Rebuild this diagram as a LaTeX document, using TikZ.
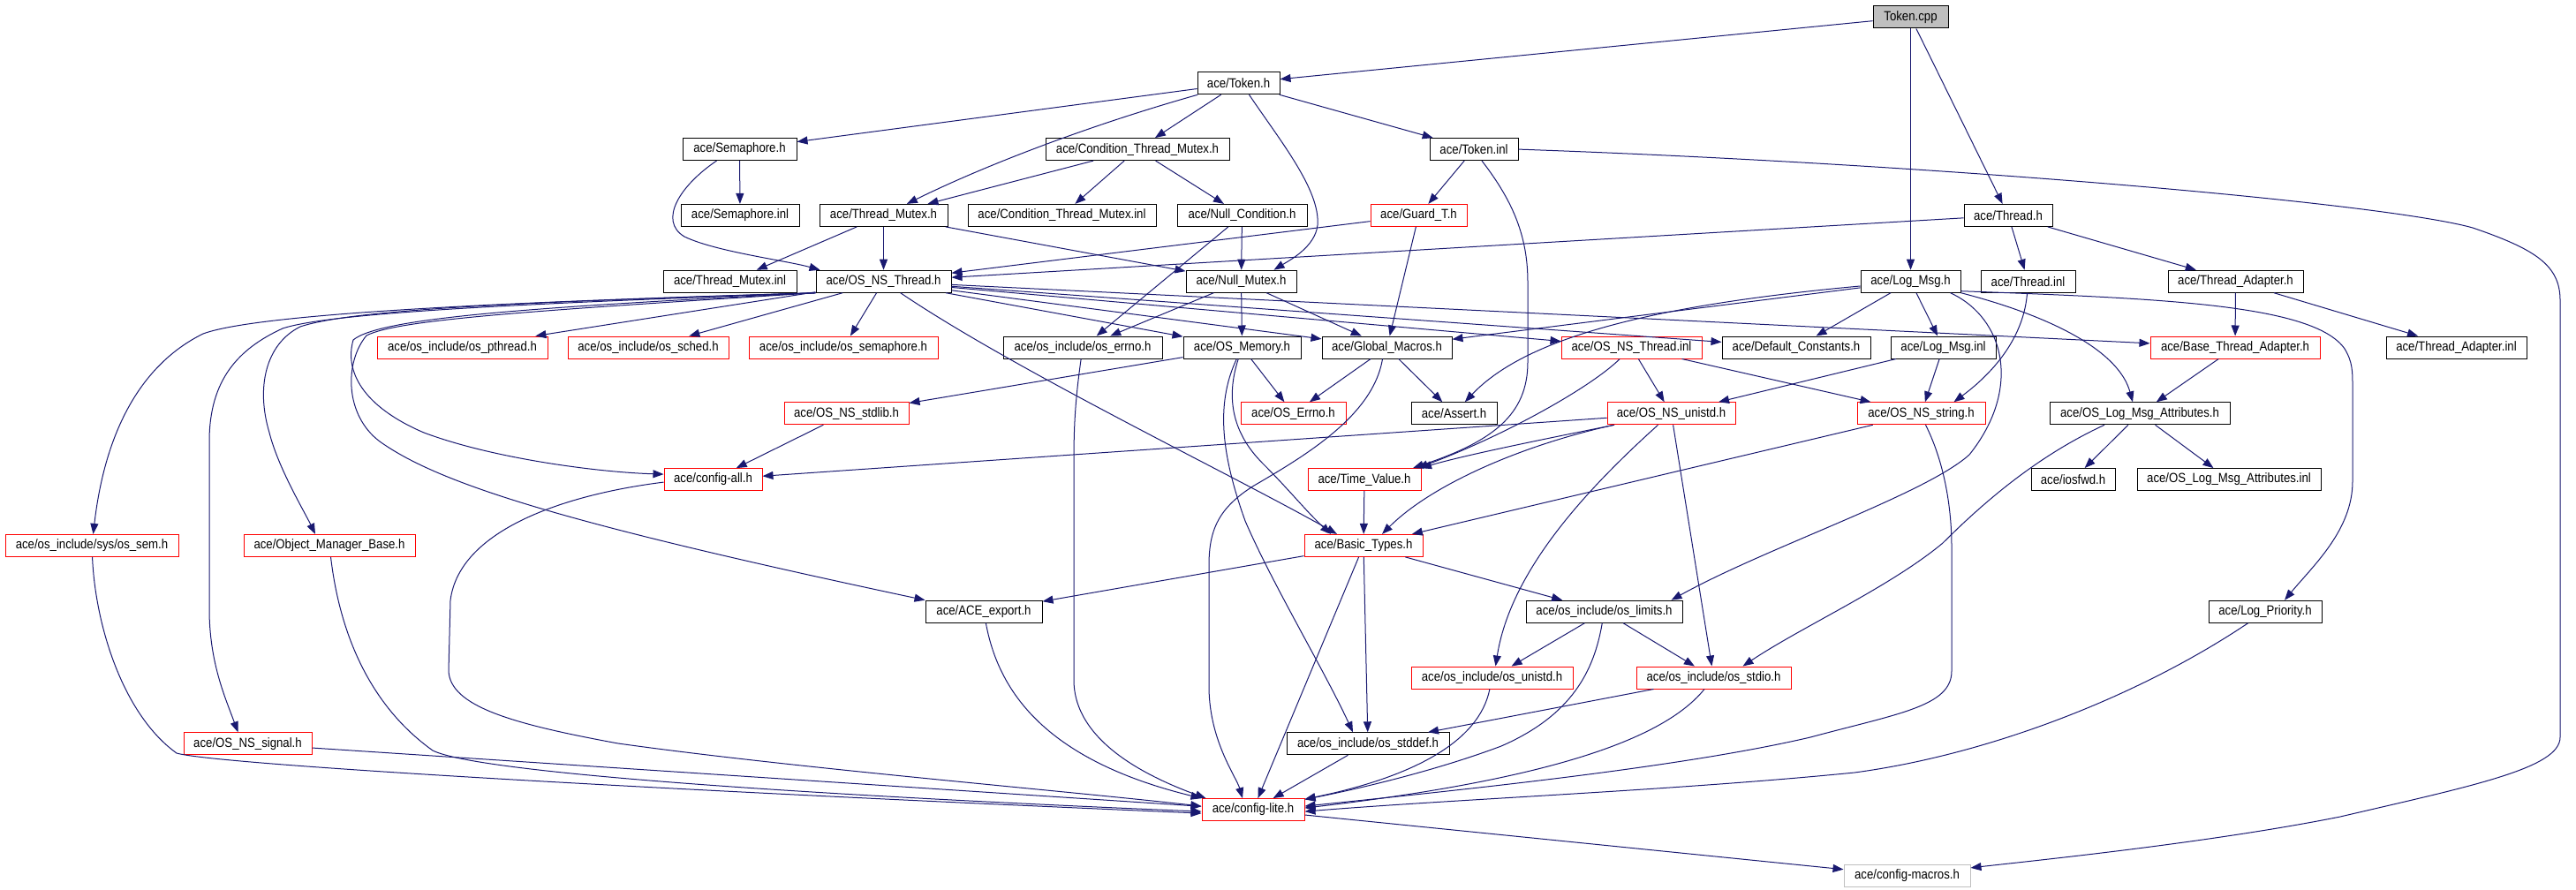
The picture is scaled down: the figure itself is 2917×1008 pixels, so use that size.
\documentclass[tikz,border=0pt]{standalone}
\usepackage{fontspec}
\setmainfont{Liberation Sans}[FakeStretch=0.88]
\usetikzlibrary{arrows.meta}
\definecolor{edgec}{HTML}{191970}
\definecolor{lgray}{HTML}{BFBFBF}
\newcommand\nodefont{\fontsize{15}{18}\selectfont}
\begin{document}
\begin{tikzpicture}[x=1pt,y=-1pt,
  nb/.style={draw=black, line width=1pt, minimum height=25pt, inner sep=0pt, fill=white, font=\nodefont},
  nr/.style={nb, draw=red},
  ng/.style={nb, draw=lgray},
  e/.style={draw=edgec, line width=1pt, -{Triangle[length=12pt,width=9pt]}, color=edgec}]
\useasboundingbox (0,0) rectangle (2917,1008);
% row 1
\node[nb, fill=lgray, minimum width=85pt] (tokencpp) at (2163.5,19.5) {Token.cpp};
% row 2
\node[nb, minimum width=93pt] (tokenh) at (1402.5,94.3) {ace/Token.h};
% row 3
\node[nb, minimum width=129pt] (semh) at (837.5,169.1) {ace/Semaphore.h};
\node[nb, minimum width=208pt] (ctmh) at (1288,169.1) {ace/Condition\_Thread\_Mutex.h};
\node[nb, minimum width=100pt] (tokeninl) at (1669,169.1) {ace/Token.inl};
% row 4
\node[nb, minimum width=134pt] (seminl) at (838,243.9) {ace/Semaphore.inl};
\node[nb, minimum width=145pt] (tmh) at (1000.5,243.9) {ace/Thread\_Mutex.h};
\node[nb, minimum width=213pt] (ctminl) at (1202.5,243.9) {ace/Condition\_Thread\_Mutex.inl};
\node[nb, minimum width=147pt] (nullcond) at (1406.5,243.9) {ace/Null\_Condition.h};
\node[nr, minimum width=109pt] (guard) at (1606.5,243.9) {ace/Guard\_T.h};
\node[nb, minimum width=100pt] (threadh) at (2274,243.9) {ace/Thread.h};
% row 5
\node[nb, minimum width=151pt] (tminl) at (826.5,318.7) {ace/Thread\_Mutex.inl};
\node[nb, minimum width=153pt] (osnsthread) at (1000.5,318.7) {ace/OS\_NS\_Thread.h};
\node[nb, minimum width=125pt] (nullmutex) at (1405.5,318.7) {ace/Null\_Mutex.h};
\node[nb, minimum width=113pt] (logmsg) at (2163.5,318.7) {ace/Log\_Msg.h};
\node[nb, minimum width=107pt] (threadinl) at (2296.5,318.7) {ace/Thread.inl};
\node[nb, minimum width=153pt] (threadadapter) at (2531.5,318.7) {ace/Thread\_Adapter.h};
% row 6
\node[nr, minimum width=193pt] (pthread) at (523.5,393.5) {ace/os\_include/os\_pthread.h};
\node[nr, minimum width=182pt] (sched) at (734,393.5) {ace/os\_include/os\_sched.h};
\node[nr, minimum width=214pt] (semaphore) at (955,393.5) {ace/os\_include/os\_semaphore.h};
\node[nb, minimum width=180pt] (errno) at (1226,393.5) {ace/os\_include/os\_errno.h};
\node[nb, minimum width=133pt] (osmemory) at (1406.5,393.5) {ace/OS\_Memory.h};
\node[nb, minimum width=147pt] (globalmacros) at (1570.5,393.5) {ace/Global\_Macros.h};
\node[nr, minimum width=159pt] (nsthreadinl) at (1847.5,393.5) {ace/OS\_NS\_Thread.inl};
\node[nb, minimum width=168pt] (defconst) at (2034,393.5) {ace/Default\_Constants.h};
\node[nb, minimum width=119pt] (logmsginl) at (2200.5,393.5) {ace/Log\_Msg.inl};
\node[nr, minimum width=192pt] (basethread) at (2531,393.5) {ace/Base\_Thread\_Adapter.h};
\node[nb, minimum width=159pt] (threadadapterinl) at (2781.5,393.5) {ace/Thread\_Adapter.inl};
% row 7
\node[nr, minimum width=141pt] (nsstdlib) at (958.5,468.3) {ace/OS\_NS\_stdlib.h};
\node[nr, minimum width=119pt] (OSErrno) at (1464.5,468.3) {ace/OS\_Errno.h};
\node[nb, minimum width=97pt] (assert) at (1646.5,468.3) {ace/Assert.h};
\node[nr, minimum width=145pt] (nsunistd) at (1892.5,468.3) {ace/OS\_NS\_unistd.h};
\node[nr, minimum width=145pt] (nsstring) at (2175.5,468.3) {ace/OS\_NS\_string.h};
\node[nb, minimum width=204pt] (logmsgattr) at (2423,468.3) {ace/OS\_Log\_Msg\_Attributes.h};
% row 8
\node[nr, minimum width=111pt] (configall) at (807.5,543.1) {ace/config-all.h};
\node[nr, minimum width=128pt] (timevalue) at (1545,543.1) {ace/Time\_Value.h};
\node[nb, minimum width=95pt] (iosfwd) at (2347.5,543.1) {ace/iosfwd.h};
\node[nb, minimum width=208pt] (logmsgattrinl) at (2524,543.1) {ace/OS\_Log\_Msg\_Attributes.inl};
% row 9
\node[nr, minimum width=196pt] (syssem) at (104,617.9) {ace/os\_include/sys/os\_sem.h};
\node[nr, minimum width=194pt] (omb) at (373,617.9) {ace/Object\_Manager\_Base.h};
\node[nr, minimum width=134pt] (basictypes) at (1544,617.9) {ace/Basic\_Types.h};
% row 10
\node[nb, minimum width=132pt] (aceexport) at (1114,692.7) {ace/ACE\_export.h};
\node[nb, minimum width=177pt] (oslimits) at (1816.5,692.7) {ace/os\_include/os\_limits.h};
\node[nb, minimum width=128pt] (logprio) at (2565,692.7) {ace/Log\_Priority.h};
% row 11
\node[nr, minimum width=183pt] (osunistd) at (1689.5,767.5) {ace/os\_include/os\_unistd.h};
\node[nr, minimum width=175pt] (osstdio) at (1940.5,767.5) {ace/os\_include/os\_stdio.h};
% row 12
\node[nr, minimum width=145pt] (nssignal) at (280.5,842.3) {ace/OS\_NS\_signal.h};
\node[nb, minimum width=184pt] (osstddef) at (1549,842.3) {ace/os\_include/os\_stddef.h};
% row 13
\node[nr, minimum width=116pt] (configlite) at (1419,917.1) {ace/config-lite.h};
% row 14
\node[ng, minimum width=143pt] (configmacros) at (2159.5,991.9) {ace/config-macros.h};

% edges
\draw[e] (tokencpp) -- (tokenh);
\draw[e] (tokencpp) -- (logmsg);
\draw[e] (tokencpp) -- (threadh);
\draw[e] (tokenh) -- (semh);
\draw[e] (tokenh) .. controls (1240,140) and (1120,185) .. (tmh);
\draw[e] (tokenh) -- (ctmh);
\draw[e] ([xshift=12]tokenh.south) .. controls (1450,160) and (1495,215) .. (1492,255) .. controls (1489,280) and (1460,295) .. ([xshift=37]nullmutex.north);
\draw[e] (tokenh) -- (tokeninl);
\draw[e] (tokeninl) -- (guard);
\draw[e] ([xshift=9]tokeninl.south) .. controls (1715,230) and (1730,270) .. (1730,320) -- (1730,410) .. controls (1730,470) and (1690,500) .. ([xshift=55]timevalue.north);
\draw[e] (tokeninl.east) .. controls (2200,186) and (2700,230) .. (2800,258) .. controls (2870,282) and (2899,300) .. (2899,340) -- (2899,835) .. controls (2899,870) and (2800,890) .. (2650,925) .. controls (2500,955) and (2300,975) .. ([yshift=9]configmacros.east);
\draw[e] (semh) -- (seminl);
\draw[e] ([xshift=-26]semh.south) .. controls (770,210) and (745,250) .. (775,268) .. controls (810,285) and (890,295) .. ([xshift=-72]osnsthread.north);
\draw[e] (ctmh) -- (tmh);
\draw[e] (ctmh) -- (ctminl);
\draw[e] (ctmh) -- (nullcond);
\draw[e] (tmh) -- (tminl);
\draw[e] (tmh) -- (osnsthread);
\draw[e] (tmh) -- (nullmutex);
\draw[e] (nullcond) -- (nullmutex);
\draw[e] (nullcond) -- (errno);
\draw[e] (nullmutex) -- (osmemory);
\draw[e] (nullmutex) -- (errno);
\draw[e] (nullmutex) -- (globalmacros);
\draw[e] (guard) -- (osnsthread);
\draw[e] (guard) -- (globalmacros);
\draw[e] (threadh) -- (osnsthread);
\draw[e] (threadh) -- (threadinl);
\draw[e] (threadh) -- (threadadapter);
\draw[e] (threadadapter) -- (basethread);
\draw[e] (threadadapter) -- (threadadapterinl);
\draw[e] (threadinl) .. controls (2292,380) and (2260,420) .. ([xshift=37]nsstring.north);
\draw[e] (logmsg) -- (globalmacros);
\draw[e] (logmsg) .. controls (1880,345) and (1730,380) .. (assert);
\draw[e] (logmsg) -- (defconst);
\draw[e] (logmsg) -- (logmsginl);
\draw[e] (logmsg.south east) .. controls (2330,360) and (2400,400) .. ([xshift=-8]logmsgattr.north);
\draw[e] ([xshift=45]logmsg.south) .. controls (2270,360) and (2290,440) .. (2230,515) .. controls (2180,560) and (2000,620) .. ([xshift=76]oslimits.north);
\draw[e] ([yshift=2]logmsg.south east) .. controls (2450,338) and (2620,345) .. (2655,395) .. controls (2664,410) and (2664,420) .. (2664,440) -- (2664,545) .. controls (2664,600) and (2620,640) .. ([xshift=22]logprio.north);
\draw[e] (logmsginl) -- (nsunistd);
\draw[e] (logmsginl) -- (nsstring);
\draw[e] (basethread) -- (logmsgattr);
\draw[e] (logmsgattr) -- (iosfwd);
\draw[e] (logmsgattr) -- (logmsgattrinl);
\draw[e] ([xshift=-40]logmsgattr.south) .. controls (2310,515) and (2250,565) .. (2200,615) .. controls (2140,665) and (2040,710) .. ([xshift=33]osstdio.north);
% OS_NS_Thread.h
\draw[e] (osnsthread) -- (pthread);
\draw[e] (osnsthread) -- (sched);
\draw[e] (osnsthread) -- (semaphore);
\draw[e] (osnsthread.south west) .. controls (650,340) and (300,352) .. (230,378) .. controls (165,410) and (120,480) .. (syssem);
\draw[e] (osnsthread.south west) .. controls (650,342) and (380,352) .. (320,372) .. controls (270,395) and (237,430) .. (237,500) -- (237,690) .. controls (237,750) and (255,790) .. ([xshift=-11]nssignal.north);
\draw[e] (osnsthread.south west) .. controls (600,342) and (400,350) .. (340,370) .. controls (300,390) and (290,440) .. (305,490) .. controls (315,530) and (345,580) .. ([xshift=-16]omb.north);
\draw[e] (osnsthread.south west) .. controls (600,348) and (430,360) .. (400,385) .. controls (390,420) and (410,460) .. (480,490) .. controls (560,520) and (680,535) .. ([yshift=6]configall.west);
\draw[e] (osnsthread.south west) .. controls (600,352) and (450,362) .. (415,380) .. controls (390,410) and (390,470) .. (430,500) .. controls (500,550) and (650,595) .. (aceexport.north west);
\draw[e] (osnsthread) -- (osmemory);
\draw[e] (osnsthread) -- (globalmacros);
\draw[e] (osnsthread) -- (nsthreadinl);
\draw[e] (osnsthread) -- (defconst);
\draw[e] (osnsthread) -- (basethread);
\draw[e] (osnsthread) .. controls (1150,420) and (1400,540) .. ([xshift=-30]basictypes.north);
\draw[e] (nsthreadinl) -- (nsunistd);
\draw[e] (nsthreadinl) -- (nsstring);
\draw[e] (nsthreadinl) .. controls (1800,440) and (1700,495) .. ([xshift=60]timevalue.north);
\draw[e] (nsunistd) .. controls (1760,495) and (1660,515) .. ([xshift=64]timevalue.north);
\draw[e] ([xshift=-65]nsunistd.south) .. controls (1720,505) and (1620,550) .. ([xshift=21]basictypes.north);
\draw[e] (nsunistd) -- (configall);
\draw[e] ([xshift=-15]nsunistd.south) .. controls (1790,560) and (1710,650) .. ([xshift=4]osunistd.north);
\draw[e] (nsunistd) -- (osstdio);
\draw[e] (nsstring) -- (basictypes);
\draw[e] ([xshift=5]nsstring.south) .. controls (2200,520) and (2210,570) .. (2210,620) -- (2210,760) .. controls (2210,800) and (2150,808) .. (2050,835) .. controls (1900,870) and (1650,895) .. ([yshift=4]configlite.east);
\draw[e] (basictypes) -- (aceexport);
\draw[e] (basictypes) -- (oslimits);
\draw[e] (basictypes) -- (osstddef);
\draw[e] (basictypes) -- (configlite);
\draw[e] (timevalue) -- (basictypes);
\draw[e] (oslimits) -- (osunistd);
\draw[e] (oslimits) -- (osstdio);
\draw[e] (oslimits) .. controls (1805,760) and (1780,810) .. (1700,845) .. controls (1620,875) and (1530,895) .. (configlite);
\draw[e] (osunistd) .. controls (1675,840) and (1600,880) .. (configlite);
\draw[e] (osstdio) -- (osstddef);
\draw[e] (osstdio) .. controls (1890,830) and (1780,880) .. ([yshift=2]configlite.east);
\draw[e] (osstddef) -- (configlite);
\draw[e] (logprio) .. controls (2420,790) and (2250,855) .. (2100,875) .. controls (1900,895) and (1650,905) .. ([yshift=-2]configlite.east);
\draw[e] (configlite) -- (configmacros);
\draw[e] ([yshift=-3]configall.west) .. controls (640,560) and (520,600) .. (510,680) -- (508,760) .. controls (510,800) and (580,820) .. (700,842) .. controls (900,870) and (1200,895) .. ([yshift=4]configlite.west);
\draw[e] (aceexport) .. controls (1130,780) and (1180,860) .. (configlite.north west);
\draw[e] (errno) .. controls (1218,450) and (1216,480) .. (1216,520) -- (1216,770) .. controls (1216,840) and (1300,880) .. ([xshift=5]configlite.north west);
\draw[e] (osmemory) -- (nsstdlib);
\draw[e] (osmemory) -- (OSErrno);
\draw[e] (osmemory) .. controls (1388,450) and (1395,490) .. (1430,525) .. controls (1460,555) and (1480,580) .. ([xshift=-37]basictypes.north);
\draw[e] (osmemory) .. controls (1375,460) and (1385,520) .. (1410,590) .. controls (1440,660) and (1500,760) .. ([xshift=-17]osstddef.north);
\draw[e] (globalmacros) -- (OSErrno);
\draw[e] (globalmacros) -- (assert);
\draw[e] ([xshift=-5]globalmacros.south) .. controls (1555,470) and (1480,515) .. (1420,550) .. controls (1380,575) and (1369,600) .. (1369,640) -- (1369,780) .. controls (1370,840) and (1400,880) .. ([xshift=-12]configlite.north);
\draw[e] (nssignal) -- (configlite);
\draw[e] (omb) .. controls (385,720) and (420,800) .. (490,850) .. controls (540,875) and (900,900) .. ([yshift=-2]configlite.west);
\draw[e] (syssem) .. controls (108,710) and (140,810) .. (200,853) .. controls (240,865) and (700,893) .. ([yshift=-4]configlite.west);
\draw[e] (nsstdlib) -- (configall);
\end{tikzpicture}
\end{document}
